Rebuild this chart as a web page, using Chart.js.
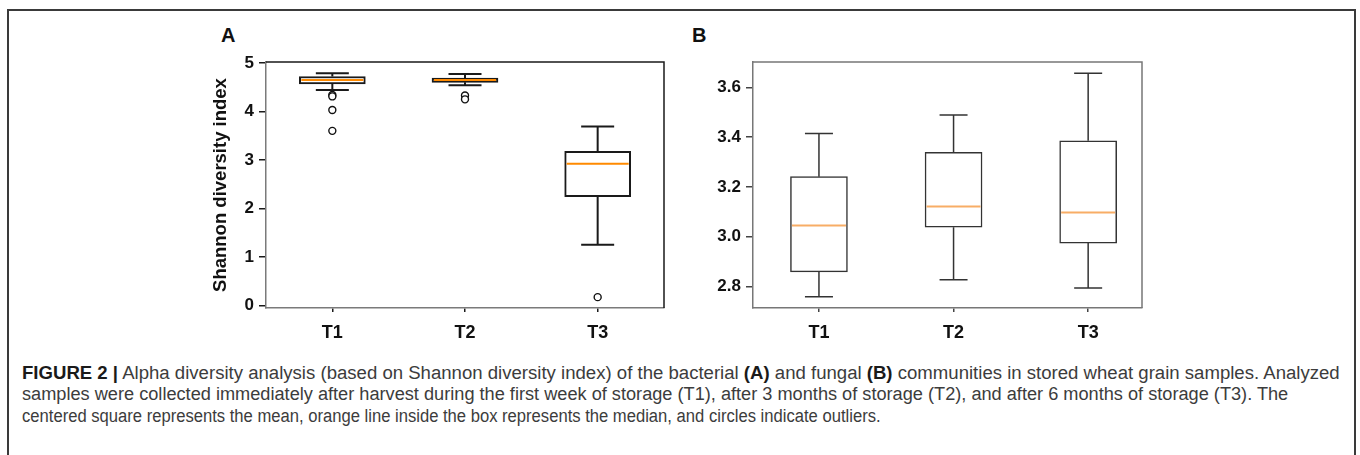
<!DOCTYPE html>
<html>
<head>
<meta charset="utf-8">
<script src="https://cdn.jsdelivr.net/npm/chart.js@4.4.1/dist/chart.umd.min.js"></script>
<style>
  html, body { margin: 0; padding: 0; background: #fff; }
  body { width: 1360px; height: 455px; position: relative; overflow: hidden; font-family: "Liberation Sans", Arial, sans-serif; }
  .frame { position: absolute; left: 7px; top: 9px; width: 1345px; height: 480px; border: 2px solid #3a3a3a; }
  .panel { position: absolute; top: 0; }
  .tag { position: absolute; font: bold 20px/20px "Liberation Sans", Arial, sans-serif; color: #111; }
  .cap { position: absolute; left: 22px; white-space: nowrap; font-size: 18px; line-height: 22px; color: #3c3c3c;
         font-family: "Liberation Sans Narrow", "Liberation Sans", Arial, sans-serif; transform-origin: 0 50%; }
  .cap b { color: #1a1a1a; }
</style>
</head>
<body>
<div class="frame"></div>
<div class="tag" style="left:221px; top:25px;">A</div>
<div class="tag" style="left:692px; top:25px;">B</div>
<div class="panel" style="left:180px;"><canvas id="chartA" width="500" height="350"></canvas></div>
<div class="panel" style="left:680px;"><canvas id="chartB" width="480" height="350"></canvas></div>

<div class="cap" data-w="1318" style="top:362px;"><b>FIGURE 2 |</b> Alpha diversity analysis (based on Shannon diversity index) of the bacterial <b>(A)</b> and fungal <b>(B)</b> communities in stored wheat grain samples. Analyzed</div>
<div class="cap" data-w="1266" style="top:383px;">samples were collected immediately after harvest during the first week of storage (T1), after 3 months of storage (T2), and after 6 months of storage (T3). The</div>
<div class="cap" data-w="859" style="top:405px;">centered square represents the mean, orange line inside the box represents the median, and circles indicate outliers.</div>

<script>
// ── Data ─────────────────────────────────────────────────────────────────────
const categories = ["T1", "T2", "T3"];

// bacterial communities (panel A)
const bactWhiskerLow  = [4.44, 4.54, 1.25];
const bactQ1          = [4.57, 4.60, 2.24];
const bactMedian      = [4.65, 4.65, 2.92];
const bactQ3          = [4.72, 4.69, 3.18];
const bactWhiskerHigh = [4.79, 4.77, 3.69];
const bactOutliers    = [[4.34, 4.31, 4.03, 3.60], [4.33, 4.25], [0.17]];
const bactTicks       = [0, 1, 2, 3, 4, 5];

// fungal communities (panel B)
const fungWhiskerLow  = [2.758, 2.827, 2.793];
const fungQ1          = [2.858, 3.038, 2.974];
const fungMedian      = [3.045, 3.121, 3.097];
const fungQ3          = [3.241, 3.339, 3.385];
const fungWhiskerHigh = [3.415, 3.489, 3.657];
const fungOutliers    = [[], [], []];
const fungTicks       = [2.8, 3.0, 3.2, 3.4, 3.6];

const TICK_FONT  = "'Liberation Sans', Arial, sans-serif";
const LABEL_FONT = "'Liberation Sans Narrow', 'Liberation Sans', Arial, sans-serif";

// ── Whiskers, caps, medians and the top/right frame ─────────────────────────
function makeBoxPlugin(stats, style) {
  return {
    id: "boxParts",
    beforeDatasetsDraw(chart) {
      const { ctx, chartArea: a, scales: { x, y } } = chart;
      ctx.save();
      ctx.strokeStyle = style.frame;
      ctx.lineWidth = style.frameWidth;
      ctx.beginPath();
      ctx.moveTo(a.left, a.top); ctx.lineTo(a.right, a.top); ctx.lineTo(a.right, a.bottom);
      ctx.stroke();

      ctx.strokeStyle = style.line;
      ctx.lineWidth = style.lineWidth;
      stats.low.forEach((lo, i) => {
        const cx = x.getPixelForValue(i + 1);
        const half = style.cap / 2;
        [[lo, stats.q1[i]], [stats.high[i], stats.q3[i]]].forEach(([end, edge]) => {
          const ye = y.getPixelForValue(end);
          ctx.beginPath();
          ctx.moveTo(cx, ye); ctx.lineTo(cx, y.getPixelForValue(edge));
          ctx.moveTo(cx - half, ye); ctx.lineTo(cx + half, ye);
          ctx.stroke();
        });
      });
      ctx.restore();
    },
    afterDatasetsDraw(chart) {
      const { ctx, scales: { x, y } } = chart;
      ctx.save();
      ctx.strokeStyle = style.median;
      ctx.lineWidth = style.medianWidth;
      stats.median.forEach((m, i) => {
        const cx = x.getPixelForValue(i + 1);
        const ym = y.getPixelForValue(m);
        const half = style.box / 2 - style.lineWidth;
        ctx.beginPath(); ctx.moveTo(cx - half, ym); ctx.lineTo(cx + half, ym); ctx.stroke();
      });
      ctx.restore();
    }
  };
}

function renderBoxChart(canvasId, stats, cfg) {
  const ctx = document.getElementById(canvasId).getContext("2d");
  const boxData = categories.map((c, i) => ({ x: i + 1, y: [stats.q1[i], stats.q3[i]] }));
  const outData = stats.outliers.flatMap((vals, i) => vals.map(v => ({ x: i + 1, y: v })));

  return new Chart(ctx, {
    type: "bar",
    data: {
      datasets: [
        {
          type: "bar",
          data: boxData,
          backgroundColor: "#ffffff",
          borderColor: cfg.style.line,
          borderWidth: cfg.style.lineWidth,
          borderSkipped: false,
          barThickness: cfg.style.box,
          order: 2
        },
        {
          type: "scatter",
          data: outData,
          pointStyle: "circle",
          pointRadius: 3.5,
          pointBackgroundColor: "#ffffff",
          pointBorderColor: "#111",
          pointBorderWidth: 1.4,
          showLine: false,
          order: 1
        }
      ]
    },
    options: {
      responsive: false,
      animation: false,
      layout: { padding: cfg.padding },
      plugins: { legend: { display: false }, tooltip: { enabled: false } },
      scales: {
        x: {
          type: "linear",
          offset: false,
          min: cfg.xMin, max: cfg.xMax,
          afterBuildTicks: axis => { axis.ticks = categories.map((c, i) => ({ value: i + 1 })); },
          afterFit: axis => { axis.height = 42; },
          ticks: {
            color: "#111",
            padding: 10,
            font: { family: LABEL_FONT, size: 18, weight: "bold" },
            callback: v => categories[v - 1]
          },
          grid: { offset: false, drawOnChartArea: false, drawTicks: true, tickLength: 4, color: cfg.style.tick, lineWidth: 1.5 },
          border: { display: true, color: cfg.style.axis, width: cfg.style.frameWidth }
        },
        y: {
          type: "linear",
          min: cfg.yMin, max: cfg.yMax,
          afterBuildTicks: axis => { axis.ticks = cfg.ticks.map(v => ({ value: v })); },
          afterFit: axis => { axis.width = cfg.yWidth; },
          ticks: {
            color: "#111",
            padding: 5,
            font: { family: TICK_FONT, size: cfg.tickSize, weight: "bold" },
            callback: v => cfg.fmt(v)
          },
          grid: { drawOnChartArea: false, drawTicks: true, tickLength: 7, color: cfg.style.tick, lineWidth: 1.5 },
          border: { display: true, color: cfg.style.axis, width: cfg.style.frameWidth },
          title: cfg.title
        }
      }
    },
    plugins: [makeBoxPlugin(stats, cfg.style)]
  });
}

// ── Panel A: bacterial ──────────────────────────────────────────────────────
renderBoxChart("chartA", {
  low: bactWhiskerLow, q1: bactQ1, median: bactMedian, q3: bactQ3, high: bactWhiskerHigh, outliers: bactOutliers
}, {
  xMin: 0.5, xMax: 3.5, yMin: -0.054, yMax: 5.02, ticks: bactTicks, fmt: v => String(v),
  tickSize: 17, yWidth: 86,
  padding: { left: 0, right: 16, top: 62, bottom: 0 },
  title: {
    display: true, text: "Shannon diversity index", color: "#111",
    font: { family: TICK_FONT, size: 18.5, weight: "bold" },
    padding: { top: 30, bottom: 0 }
  },
  style: {
    line: "#1a1a1a", lineWidth: 2, box: 66, cap: 33,
    median: "#ff8a00", medianWidth: 2,
    frame: "#1a1a1a", frameWidth: 1.5, axis: "#7a7a7a", tick: "#1a1a1a"
  }
});

// ── Panel B: fungal ─────────────────────────────────────────────────────────
renderBoxChart("chartB", {
  low: fungWhiskerLow, q1: fungQ1, median: fungMedian, q3: fungQ3, high: fungWhiskerHigh, outliers: fungOutliers
}, {
  xMin: 0.51, xMax: 3.4, yMin: 2.713, yMax: 3.702, ticks: fungTicks, fmt: v => v.toFixed(1),
  tickSize: 17, yWidth: 73,
  padding: { left: 0, right: 18, top: 62, bottom: 0 },
  title: { display: false },
  style: {
    line: "#333333", lineWidth: 1.5, box: 57, cap: 28,
    median: "#f8ad66", medianWidth: 2,
    frame: "#777777", frameWidth: 1.5, axis: "#777777", tick: "#444444"
  }
});

// ── Caption: stretch each line to its printed width ─────────────────────────
document.querySelectorAll(".cap").forEach(el => {
  const target = Number(el.dataset.w);
  el.style.transform = `scaleX(${target / el.scrollWidth})`;
});
</script>
</body>
</html>
